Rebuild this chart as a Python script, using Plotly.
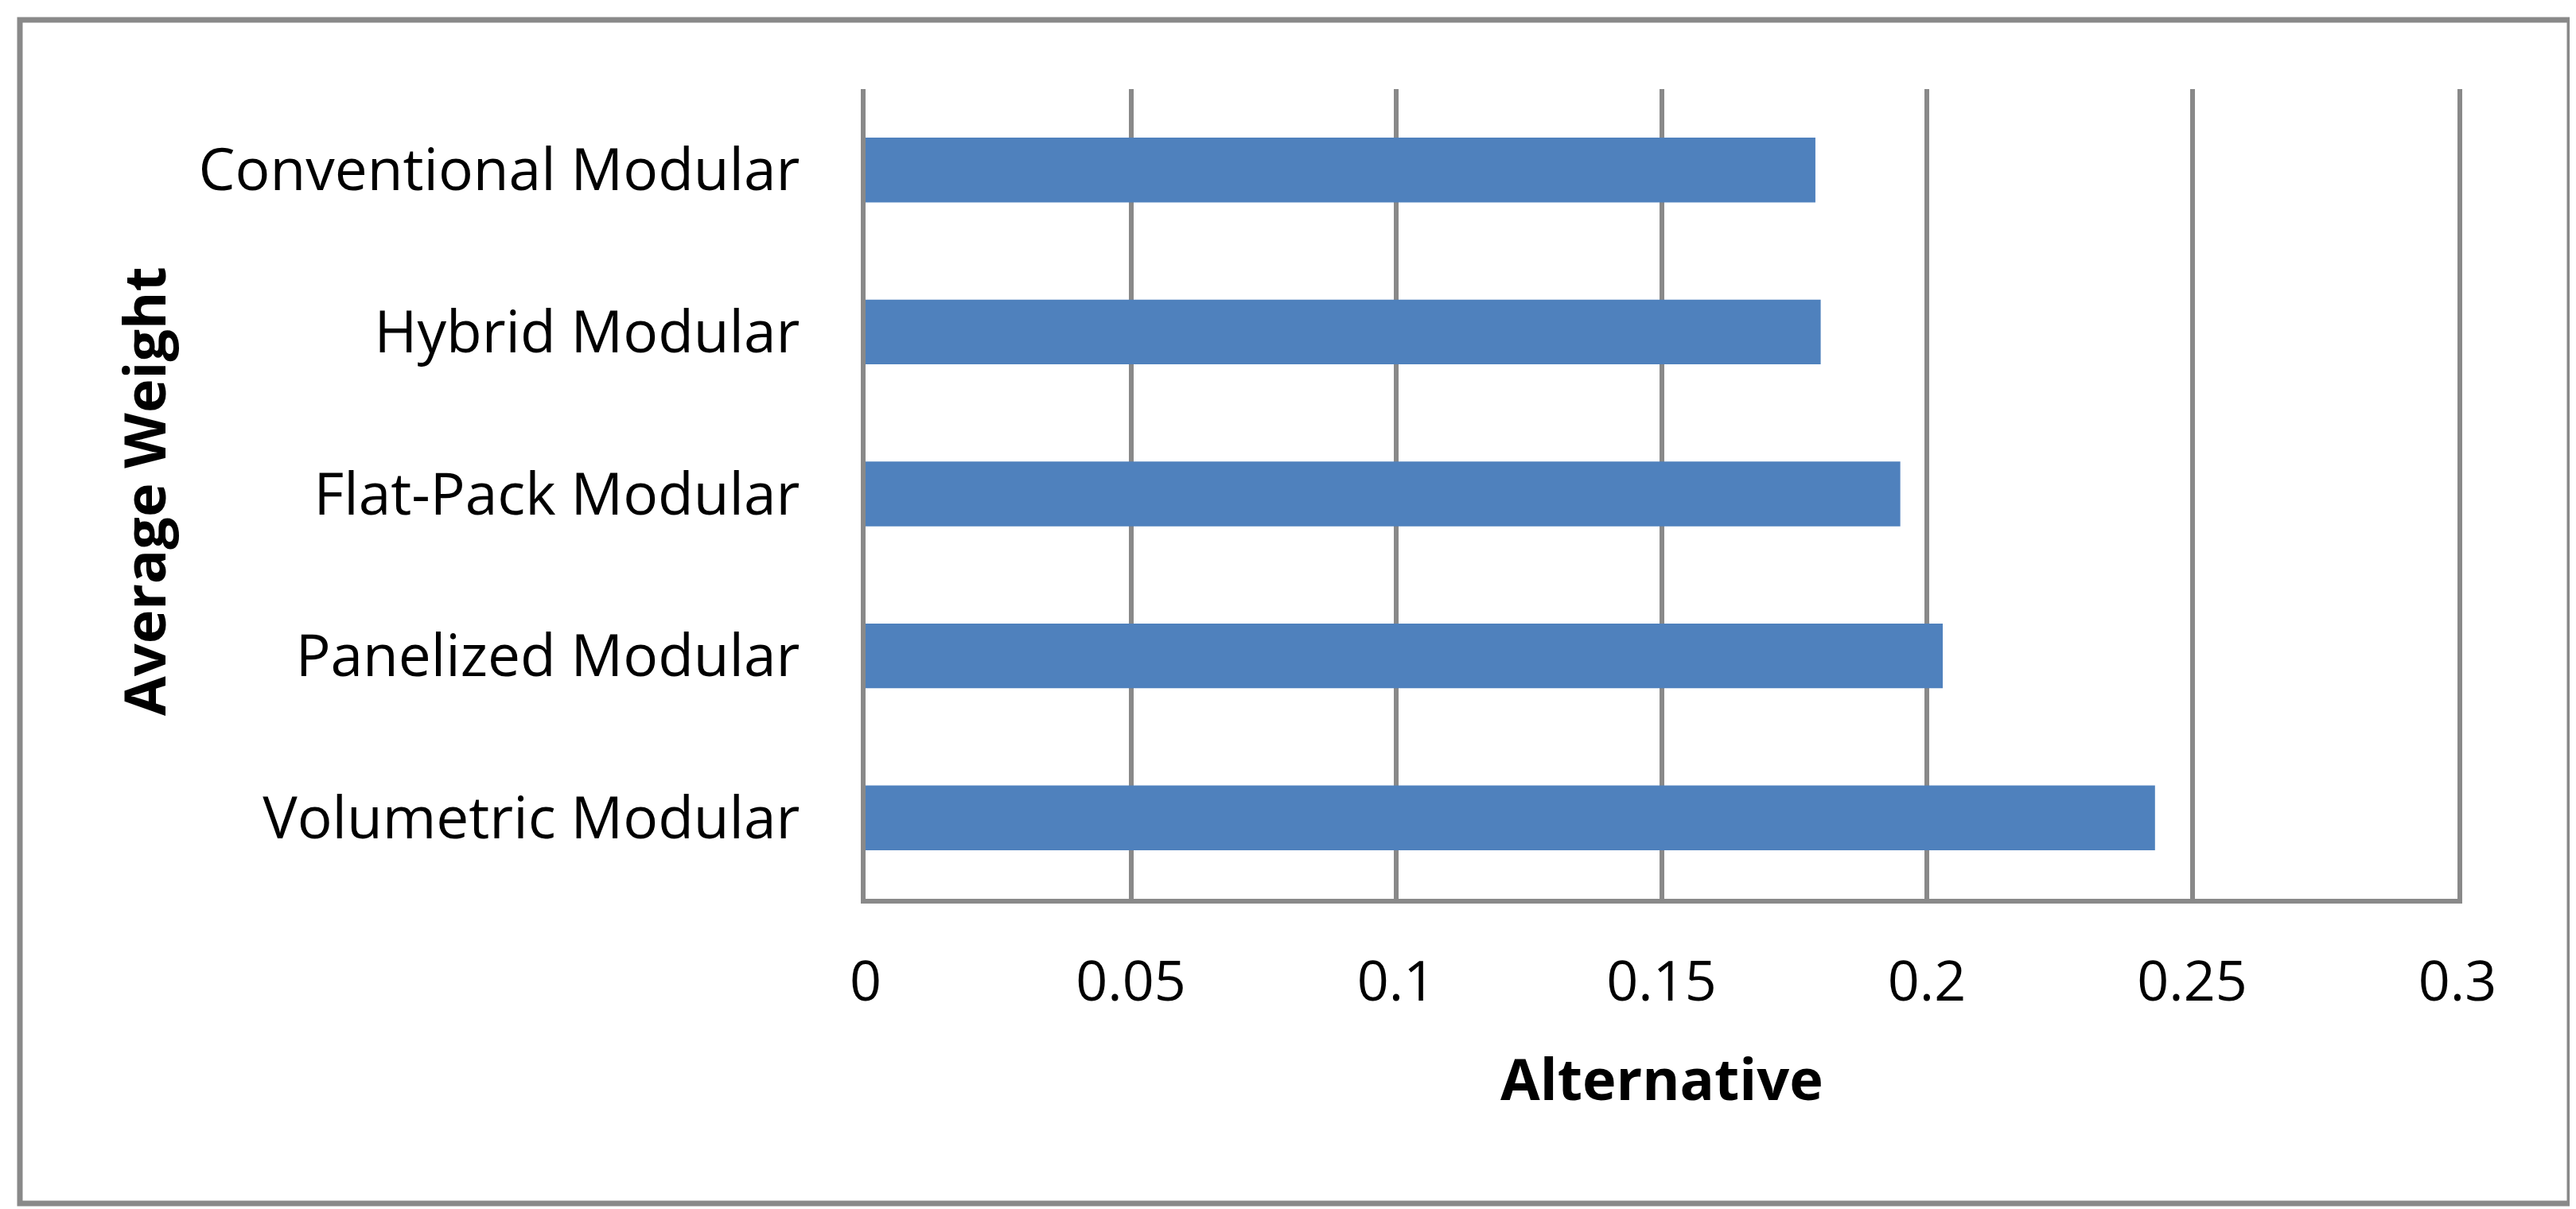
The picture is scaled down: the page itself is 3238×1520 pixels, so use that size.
import plotly.graph_objects as go

categories = ["Volumetric Modular", "Panelized Modular", "Flat-Pack Modular",
              "Hybrid Modular", "Conventional Modular"]
weights = [0.243, 0.203, 0.195, 0.180, 0.179]
tick_vals = [0, 0.05, 0.1, 0.15, 0.2, 0.25, 0.3]
tick_text = ["0", "0.05", "0.1", "0.15", "0.2", "0.25", "0.3"]
x_title = "Alternative"
y_title = "Average Weight"

W, H = 3238, 1520
L, R, T, B = 1080, 3081, 104, 1122
pw, ph = R - L, B - T

def px(X):
    return (X - L) / pw

def py(Y):
    return (B - Y) / ph

grey = "#898989"
font_family = "Open Sans"

fig = go.Figure(go.Bar(
    x=weights, y=categories, orientation="h",
    marker=dict(color="#4F81BD", line=dict(width=0)),
    width=0.4,
))

fig.update_layout(
    width=W, height=H,
    margin=dict(l=L, r=W - R, t=T, b=H - B, pad=0),
    paper_bgcolor="white", plot_bgcolor="white",
    showlegend=False,
    font=dict(family=font_family, size=72, color="black"),
    bargap=0.6,
)

fig.update_xaxes(
    range=[0, 0.3], tickvals=tick_vals, ticktext=tick_text,
    showgrid=True, gridcolor=grey, gridwidth=6,
    zeroline=False, showline=True, linecolor=grey, linewidth=6,
    ticks="", ticklabelstandoff=38,
    tickfont=dict(family=font_family, size=70, color="black"),
)
fig.update_yaxes(
    range=[-0.5, 4.5], categoryorder="array", categoryarray=categories,
    showgrid=False, zeroline=False, showline=True, linecolor=grey, linewidth=6,
    mirror=True,
    ticks="", ticklabelstandoff=62,
    tickfont=dict(family=font_family, size=73, color="black"),
)

fig.add_annotation(
    text="<b>" + x_title + "</b>", xref="paper", yref="paper",
    x=0.5, y=py(1347), xanchor="center", yanchor="middle",
    showarrow=False, font=dict(family=font_family, size=72, color="black"),
)
fig.add_annotation(
    text="<b>" + y_title + "</b>", xref="paper", yref="paper",
    x=px(172), y=py(610), xanchor="center", yanchor="middle", textangle=-90,
    showarrow=False, font=dict(family=font_family, size=72, color="black"),
)

fig.add_shape(
    type="rect", xref="paper", yref="paper",
    x0=px(17), x1=px(3222), y0=py(17), y1=py(1505),
    line=dict(color=grey, width=7), fillcolor="rgba(0,0,0,0)", layer="above",
)

fig.write_html("out.html", config={"displayModeBar": False})
